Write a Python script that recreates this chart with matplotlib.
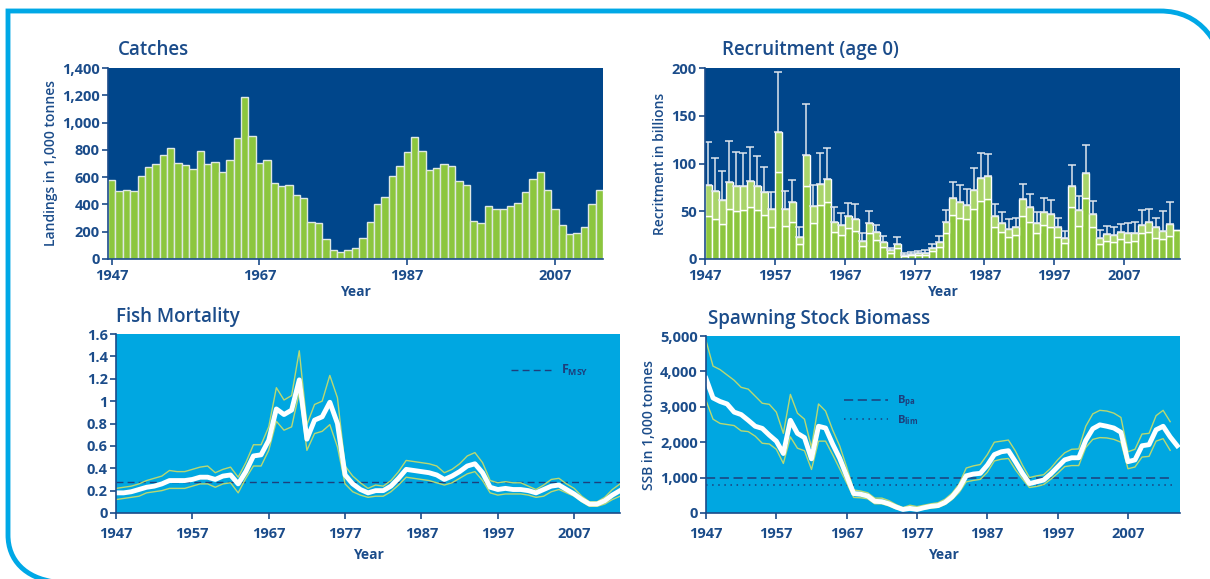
import numpy as np
from matplotlib import pyplot as plt
from matplotlib.path import Path
from matplotlib.patches import PathPatch
from matplotlib.ticker import FuncFormatter

plt.rcParams['font.family'] = ['Open Sans', 'DejaVu Sans']
plt.rcParams['mathtext.fontset'] = 'custom'
plt.rcParams['mathtext.rm'] = 'Open Sans:bold'
plt.rcParams['mathtext.bf'] = 'Open Sans:bold'
plt.rcParams['mathtext.default'] = 'bf'

#--------------------data
catch_years = np.arange(1947, 2014)
catches = [580, 500, 505, 495, 607, 672, 700, 760, 813, 705,
           690, 660, 795, 700, 710, 640, 725, 885, 1185, 900,
           705, 722, 555, 535, 542, 470, 445, 270, 265, 150,
           65, 50, 65, 78, 155, 270, 400, 455, 605, 685,
           785, 895, 790, 655, 670, 700, 680, 570, 545, 275,
           265, 385, 365, 370, 385, 408, 492, 585, 635, 505,
           365, 250, 185, 192, 235, 400, 505]

rec_years = np.arange(1947, 2015)
rec_est = [77, 71, 62, 81, 76, 76, 82, 76, 70, 52,
           133, 52, 60, 23, 109, 56, 79, 84, 39, 36,
           45, 42, 19, 38, 28, 18, 9, 16, 4, 5,
           6, 6, 11, 18, 39, 64, 60, 57, 72, 85,
           87, 45, 38, 31, 33, 63, 54, 38, 49, 47,
           33, 22, 76, 51, 90, 47, 22, 26, 25, 28,
           27, 27, 36, 39, 33, 29, 37, 30]
rec_low = [45, 42, 37, 52, 50, 51, 54, 51, 46, 34,
           91, 35, 39, 16, 76, 38, 57, 60, 28, 25,
           32, 29, 14, 27, 20, 13, 6, 11, 3, 4,
           4, 4, 8, 13, 27, 46, 43, 42, 52, 61,
           63, 33, 28, 23, 25, 45, 39, 27, 36, 33,
           23, 17, 54, 35, 64, 33, 16, 19, 18, 21,
           18, 19, 27, 28, 22, 21, 24, 30]
rec_high = [123, 106, 92, 124, 112, 111, 117, 108, 96, 70,
            196, 71, 83, 34, 162, 77, 111, 116, 54, 48,
            59, 58, 27, 50, 36, 24, 12, 23, 6, 7,
            8, 9, 16, 24, 51, 81, 77, 73, 95, 111,
            110, 58, 49, 42, 43, 79, 68, 49, 64, 62,
            43, 29, 98, 66, 119, 61, 30, 35, 33, 37,
            38, 39, 51, 52, 43, 50, 60, np.nan]

f_years = np.arange(1947, 2014)
f_mid = [0.18, 0.18, 0.19, 0.21, 0.23, 0.24, 0.26, 0.29, 0.29, 0.29,
         0.30, 0.32, 0.32, 0.30, 0.33, 0.34, 0.26, 0.37, 0.51, 0.52,
         0.65, 0.93, 0.88, 0.92, 1.19, 0.66, 0.83, 0.86, 0.99, 0.80,
         0.34, 0.26, 0.21, 0.18, 0.20, 0.20, 0.24, 0.31, 0.39, 0.38,
         0.37, 0.36, 0.34, 0.30, 0.33, 0.37, 0.42, 0.44, 0.36, 0.23,
         0.21, 0.22, 0.21, 0.21, 0.20, 0.18, 0.21, 0.24, 0.25, 0.21,
         0.17, 0.12, 0.08, 0.08, 0.11, 0.16, 0.20]
f_high = [0.22, 0.23, 0.24, 0.26, 0.29, 0.31, 0.33, 0.38, 0.37, 0.37,
          0.39, 0.41, 0.42, 0.36, 0.39, 0.41, 0.32, 0.45, 0.61, 0.61,
          0.77, 1.12, 1.01, 1.05, 1.45, 0.79, 0.97, 1.00, 1.23, 1.03,
          0.42, 0.33, 0.27, 0.22, 0.25, 0.24, 0.29, 0.37, 0.47, 0.46,
          0.45, 0.44, 0.42, 0.36, 0.39, 0.44, 0.51, 0.54, 0.45, 0.29,
          0.27, 0.28, 0.27, 0.27, 0.24, 0.21, 0.25, 0.30, 0.31, 0.26,
          0.22, 0.15, 0.10, 0.10, 0.14, 0.21, 0.26]
f_low = [0.12, 0.13, 0.14, 0.15, 0.18, 0.19, 0.20, 0.22, 0.22, 0.22,
         0.24, 0.26, 0.26, 0.23, 0.26, 0.27, 0.18, 0.31, 0.42, 0.42,
         0.56, 0.82, 0.74, 0.77, 1.08, 0.56, 0.71, 0.73, 0.79, 0.59,
         0.26, 0.19, 0.16, 0.14, 0.15, 0.15, 0.19, 0.25, 0.32, 0.31,
         0.30, 0.29, 0.27, 0.25, 0.27, 0.31, 0.35, 0.37, 0.29, 0.18,
         0.16, 0.17, 0.17, 0.17, 0.16, 0.14, 0.15, 0.19, 0.21, 0.18,
         0.15, 0.10, 0.06, 0.06, 0.08, 0.12, 0.15]
f_msy = 0.28

ssb_years = np.arange(1947, 2015)
ssb_mid = [3800, 3250, 3150, 3080, 2850, 2780, 2620, 2450, 2390, 2200,
           2030, 1680, 2620, 2250, 2130, 1530, 2450, 2400, 1950, 1550,
           1050, 550, 530, 480, 330, 320, 260, 170, 100, 130,
           100, 150, 190, 210, 300, 460, 700, 1050, 1100, 1120,
           1350, 1650, 1730, 1760, 1450, 1120, 830, 880, 930, 1100,
           1300, 1500, 1560, 1560, 2050, 2380, 2490, 2450, 2400, 2280,
           1450, 1500, 1900, 1930, 2350, 2450, 2150, 1900]
ssb_band_years = np.arange(1947, 2014)
ssb_high = [4870, 4150, 4050, 3900, 3750, 3550, 3500, 3300, 3100, 3070,
            2850, 2250, 3350, 2820, 2650, 1850, 3080, 2880, 2350, 1900,
            1300, 650, 620, 570, 420, 420, 350, 240, 150, 220,
            180, 220, 260, 290, 390, 560, 820, 1270, 1330, 1370,
            1650, 2000, 2030, 2060, 1750, 1350, 1000, 1050, 1080, 1260,
            1500, 1700, 1800, 1810, 2450, 2800, 2900, 2880, 2820, 2700,
            1730, 1800, 2230, 2250, 2750, 2900, 2580]
ssb_low = [3180, 2650, 2530, 2500, 2470, 2320, 2300, 2170, 1970, 1950,
           1800, 1400, 2150, 1830, 1760, 1230, 2030, 2030, 1650, 1250,
           850, 440, 430, 400, 260, 260, 200, 120, 70, 90,
           70, 110, 140, 160, 240, 380, 580, 880, 920, 950,
           1150, 1470, 1520, 1540, 1220, 960, 720, 750, 800, 950,
           1120, 1310, 1340, 1340, 1850, 2080, 2130, 2120, 2080, 2000,
           1250, 1300, 1580, 1600, 2030, 2100, 1770]
b_pa = 1000
b_lim = 800

#--------------------colours
NAVY = '#00468b'
SKY = '#00a7e1'
GREEN = '#8cc63e'
GREEN2 = '#a9d46a'
TXT = '#1b4c8a'
BAND = '#b9d872'
REF = '#1d3f7c'

fig = plt.figure(figsize=(12.1, 5.79), dpi=100)
W, H = 1210, 579

def box(l, t, r, b):
    return [l / W, 1 - b / H, (r - l) / W, (b - t) / H]

comma = FuncFormatter(lambda v, p: f"{int(v):,}")

def style(ax, bg, title, tx, xpad=3, lpad=2):
    ax.set_facecolor(bg)
    for s in ['top', 'right']:
        ax.spines[s].set_visible(False)
    for s in ['left', 'bottom']:
        ax.spines[s].set_color(TXT)
        ax.spines[s].set_linewidth(1.2)
    ax.tick_params(colors=TXT, labelsize=10.5, length=4, width=1.2, pad=2)
    ax.tick_params(axis='x', pad=xpad)
    for lab in ax.get_xticklabels() + ax.get_yticklabels():
        lab.set_fontweight('bold')
    ax.set_xlabel("Year", color=TXT, fontsize=10, fontweight='bold', labelpad=lpad)
    ax.text(tx, 1.04, title, transform=ax.transAxes, color=TXT, fontsize=13.5,
            fontweight='semibold', ha='left', va='bottom')

#--------------------Catches
ax1 = fig.add_axes(box(108, 68, 603, 259))
ax1.bar(catch_years, catches, width=1, color=GREEN, edgecolor='#dfe8e4', linewidth=1)
ax1.set_xlim(1946.5, 2013.5)
ax1.set_ylim(0, 1400)
ax1.set_yticks(np.arange(0, 1401, 200))
ax1.yaxis.set_major_formatter(comma)
ax1.set_xticks([1947, 1967, 1987, 2007])
ax1.set_ylabel("Landings in 1,000 tonnes", color=TXT, fontsize=10, fontweight='semibold', labelpad=3)
style(ax1, NAVY, "Catches", 0.02)

#--------------------Recruitment
ax2 = fig.add_axes(box(705, 68, 1180, 259))
lo = np.array(rec_low)
est = np.array(rec_est)
ax2.bar(rec_years, lo, width=1, align='edge', color=GREEN, edgecolor='white', linewidth=1)
ax2.bar(rec_years, est - lo, bottom=lo, width=1, align='edge', color=GREEN2,
        edgecolor='white', linewidth=1)
hi = np.array(rec_high, dtype=float)
ax2.errorbar(rec_years + 0.5, hi, yerr=[hi - est, np.zeros_like(hi)], fmt='none',
             ecolor='#dfe6ee', elinewidth=1.1, capsize=3, capthick=1.1)
ax2.set_xlim(1947, 2015)
ax2.set_ylim(0, 200)
ax2.set_yticks(np.arange(0, 201, 50))
ax2.set_xticks(np.arange(1947, 2008, 10))
ax2.set_ylabel("Recritment in billions", color=TXT, fontsize=10, fontweight='semibold', labelpad=3)
style(ax2, NAVY, "Recruitment (age 0)", 0.035)

#--------------------Fish Mortality
ax3 = fig.add_axes(box(116, 334, 620, 513))
ax3.axhline(f_msy, color=REF, lw=1, ls=(0, (5, 3)), label=r'F$_{MSY}$')
ax3.plot(f_years, f_high, color=BAND, lw=1)
ax3.plot(f_years, f_low, color=BAND, lw=1)
ax3.plot(f_years, f_mid, color='white', lw=3.5)
ax3.set_xlim(1947, 2013)
ax3.set_ylim(0, 1.6)
ax3.set_yticks(np.arange(0, 1.61, 0.2))
ax3.yaxis.set_major_formatter(FuncFormatter(lambda v, p: f"{v:g}"))
ax3.set_xticks(np.arange(1947, 2008, 10))
style(ax3, SKY, "Fish Mortality", 0.0, xpad=6, lpad=5)
ax3.legend(loc='upper right', bbox_to_anchor=(0.96, 0.9), frameon=False,
           handlelength=3.2, prop={'size': 9, 'weight': 'bold'}, labelcolor=REF)

#--------------------Spawning Stock Biomass
ax4 = fig.add_axes(box(706, 336, 1180, 513))
ax4.axhline(b_pa, xmax=0.985, color=REF, lw=1.1, ls=(0, (6, 3)), label=r'B$_{pa}$')
ax4.axhline(b_lim, xmax=0.985, color=REF, lw=1.1, ls=(0, (1, 3)), label=r'B$_{lim}$')
ax4.plot(ssb_band_years, ssb_high, color=BAND, lw=1)
ax4.plot(ssb_band_years, ssb_low, color=BAND, lw=1)
ax4.plot(ssb_years, ssb_mid, color='white', lw=3.5)
ax4.set_xlim(1947, 2014.4)
ax4.set_ylim(0, 5000)
ax4.set_yticks(np.arange(0, 5001, 1000))
ax4.yaxis.set_major_formatter(comma)
ax4.set_xticks(np.arange(1947, 2008, 10))
ax4.set_ylabel("SSB in 1,000 tonnes", color=TXT, fontsize=10, fontweight='semibold', labelpad=3)
style(ax4, SKY, "Spawning Stock Biomass", 0.005, xpad=6, lpad=5)
ax4.legend(loc='upper left', bbox_to_anchor=(0.27, 0.73), frameon=False,
           handlelength=4, prop={'size': 8, 'weight': 'bold'}, labelcolor=REF,
           labelspacing=0.3)

#--------------------frame round the figure
def fp(x, y):
    return (x / W, 1 - y / H)

verts = [fp(1230, 90), fp(1222, 40), fp(1200, 11), fp(1160, 11),
         fp(8, 11), fp(8, 535), fp(8, 560), fp(25, 578), fp(55, 582)]
codes = [Path.MOVETO, Path.CURVE4, Path.CURVE4, Path.CURVE4,
         Path.LINETO, Path.LINETO, Path.CURVE4, Path.CURVE4, Path.CURVE4]
fig.add_artist(PathPatch(Path(verts, codes), transform=fig.transFigure,
                         fill=False, edgecolor='#00a8e6', lw=3.5))

fig.savefig("out.png", dpi=100)
